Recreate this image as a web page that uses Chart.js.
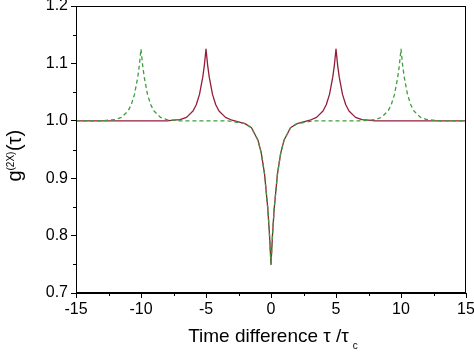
<!DOCTYPE html>
<html>
<head>
<meta charset="utf-8">
<style>
  html, body { margin: 0; padding: 0; background: #fff; }
</style>
</head>
<body>
<canvas id="g2chart" width="474" height="352"></canvas>
<script src="https://cdn.jsdelivr.net/npm/chart.js"></script>
<script>
    // Sample positions (tau / tau_c)
    const tau = [-15,-13,-12,-11.5,-11,-10.75,-10.5,-10.25,-10.125,-10,-9.875,-9.75,-9.5,-9.25,-9,-8.5,-8,-7.5,-7,-6.5,-6,-5.75,-5.5,-5.25,-5.125,-5,-4.875,-4.75,-4.5,-4.25,-4,-3.5,-3,-2.5,-2,-1.5,-1,-0.75,-0.5,-0.25,-0.125,
        0,
        0.125,0.25,0.5,0.75,1,1.5,2,2.5,3,3.5,4,4.25,4.5,4.75,4.875,5,5.125,5.25,5.5,5.75,6,6.5,7,7.5,8,8.5,9,9.25,9.5,9.75,9.875,10,10.125,10.25,10.5,10.75,11,11.5,12,13,15];

    // solid red curve (side peaks at +/-5)
    const redCurve = [1.0,1.0,1.0,1.0,1.0,1.0,1.0,1.0,1.0,1.0,1.0,1.0,1.0,1.0,1.0,1.0,1.0,1.001,1.002,1.006,1.017,1.028,1.046,1.076,1.097,1.125,1.097,1.076,1.046,1.028,1.017,1.006,1.001,0.998,0.995,0.988,0.966,0.944,0.908,0.848,0.805,
        0.75,
        0.805,0.848,0.908,0.944,0.966,0.988,0.995,0.998,1.001,1.006,1.017,1.028,1.046,1.076,1.097,1.125,1.097,1.076,1.046,1.028,1.017,1.006,1.002,1.001,1.0,1.0,1.0,1.0,1.0,1.0,1.0,1.0,1.0,1.0,1.0,1.0,1.0,1.0,1.0,1.0,1.0];

    // dashed green curve (side peaks at +/-10)
    const greenCurve = [1.0,1.0,1.002,1.006,1.017,1.028,1.046,1.076,1.097,1.125,1.097,1.076,1.046,1.028,1.017,1.006,1.002,1.001,1.0,1.0,1.0,1.0,1.0,1.0,1.0,1.0,1.0,1.0,1.0,1.0,1.0,1.0,0.999,0.997,0.995,0.988,0.966,0.944,0.908,0.848,0.805,
        0.75,
        0.805,0.848,0.908,0.944,0.966,0.988,0.995,0.997,0.999,1.0,1.0,1.0,1.0,1.0,1.0,1.0,1.0,1.0,1.0,1.0,1.0,1.0,1.0,1.001,1.002,1.006,1.017,1.028,1.046,1.076,1.097,1.125,1.097,1.076,1.046,1.028,1.017,1.006,1.002,1.0,1.0];

    const xTicks = [-15, -10, -5, 0, 5, 10, 15];
    const yTicks = [0.7, 0.8, 0.9, 1.0, 1.1, 1.2];
    const xMinor = [-12.5, -7.5, -2.5, 2.5, 7.5, 12.5];
    const yMinor = [0.75, 0.85, 0.95, 1.05, 1.15];

    const FONT = 'Arial, "Liberation Sans", sans-serif';

    // frame, minor ticks and the axis titles (with sub/superscripts)
    const decorations = {
        id: 'decorations',
        afterDraw: function(chart) {
            const ctx = chart.ctx;
            const a = chart.chartArea;
            const xs = chart.scales.x;
            const ys = chart.scales.y;
            ctx.save();
            ctx.strokeStyle = '#000';
            ctx.lineWidth = 1;
            ctx.strokeRect(Math.round(a.left) + 0.5, Math.round(a.top) + 0.5,
                Math.round(a.right - a.left) - 1, Math.round(a.bottom - a.top) - 1);

            ctx.beginPath();
            xMinor.forEach(function(v) {
                const px = Math.round(xs.getPixelForValue(v)) + 0.5;
                ctx.moveTo(px, a.bottom);
                ctx.lineTo(px, a.bottom + 3);
            });
            yMinor.forEach(function(v) {
                const py = Math.round(ys.getPixelForValue(v)) + 0.5;
                ctx.moveTo(a.left, py);
                ctx.lineTo(a.left - 3, py);
            });
            ctx.stroke();

            ctx.fillStyle = '#000';
            ctx.textBaseline = 'alphabetic';
            ctx.textAlign = 'left';

            // x title
            const mainX = 'Time difference \u03C4 /\u03C4';
            ctx.font = '19px ' + FONT;
            const wMain = ctx.measureText(mainX).width;
            ctx.font = '10px ' + FONT;
            const wSub = ctx.measureText('c').width;
            const cx = (a.left + a.right) / 2;
            const x0 = cx - (wMain + wSub) / 2;
            ctx.font = '19px ' + FONT;
            ctx.fillText(mainX, x0, 342);
            ctx.font = '10px ' + FONT;
            ctx.fillText('c', x0 + wMain + 4, 349);

            // y title, rotated
            ctx.translate(20.5, 156);
            ctx.rotate(-Math.PI / 2);
            ctx.font = '20px ' + FONT;
            const wg = ctx.measureText('g').width;
            const wt = ctx.measureText('(\u03C4)').width;
            ctx.font = '10px ' + FONT;
            const ws = ctx.measureText('(2X)').width;
            let p = -(wg + ws + wt) / 2;
            ctx.font = '20px ' + FONT;
            ctx.fillText('g', p, 0);
            p += wg;
            ctx.font = '10px ' + FONT;
            ctx.fillText('(2X)', p, -7);
            p += ws + 0.5;
            ctx.font = '20px ' + FONT;
            ctx.fillText('(\u03C4)', p, 0);
            ctx.restore();
        }
    };

    const ctx = document.getElementById('g2chart');
    new Chart(ctx, {
        type: 'line',
        data: {
            datasets: [{
                label: 'g2 (peaks at \u00B15)',
                data: tau.map(function(t, i) { return { x: t, y: redCurve[i] }; }),
                borderColor: '#931c3a',
                borderWidth: 1.3,
                borderJoinStyle: 'round',
                pointRadius: 0,
                tension: 0,
                fill: false,
                order: 1
            }, {
                label: 'g2 (peaks at \u00B110)',
                data: tau.map(function(t, i) { return { x: t, y: greenCurve[i] }; }),
                borderColor: '#3c9e3c',
                borderWidth: 1.3,
                borderDash: [4, 3],
                borderJoinStyle: 'round',
                pointRadius: 0,
                tension: 0,
                fill: false,
                order: 0
            }]
        },
        options: {
            responsive: false,
            animation: false,
            layout: { padding: { top: 6, right: 8, left: 0, bottom: 0 } },
            plugins: {
                legend: { display: false },
                tooltip: { enabled: false },
                title: { display: false }
            },
            scales: {
                x: {
                    type: 'linear',
                    min: -15,
                    max: 15,
                    afterBuildTicks: function(scale) {
                        scale.ticks = xTicks.map(function(v) { return { value: v }; });
                    },
                    afterFit: function(scale) {
                        scale.height = 59;
                        scale.paddingLeft = 0;
                        scale.paddingRight = 0;
                    },
                    grid: { display: true, drawOnChartArea: false, drawTicks: true, tickLength: 5, color: '#000' },
                    border: { display: true, color: '#000', width: 1 },
                    ticks: {
                        color: '#000',
                        padding: 2,
                        maxRotation: 0,
                        font: { size: 16, family: FONT },
                        callback: function(value) { return String(value); }
                    }
                },
                y: {
                    min: 0.7,
                    max: 1.2,
                    afterBuildTicks: function(scale) {
                        scale.ticks = yTicks.map(function(v) { return { value: v }; });
                    },
                    afterFit: function(scale) {
                        scale.width = 76;
                        scale.paddingTop = 0;
                        scale.paddingBottom = 0;
                    },
                    grid: { display: true, drawOnChartArea: false, drawTicks: true, tickLength: 5, color: '#000' },
                    border: { display: true, color: '#000', width: 1 },
                    ticks: {
                        color: '#000',
                        padding: 3,
                        font: { size: 16, family: FONT },
                        callback: function(value) { return Number(value).toFixed(1); }
                    }
                }
            }
        },
        plugins: [decorations]
    });
</script>
</body>
</html>
